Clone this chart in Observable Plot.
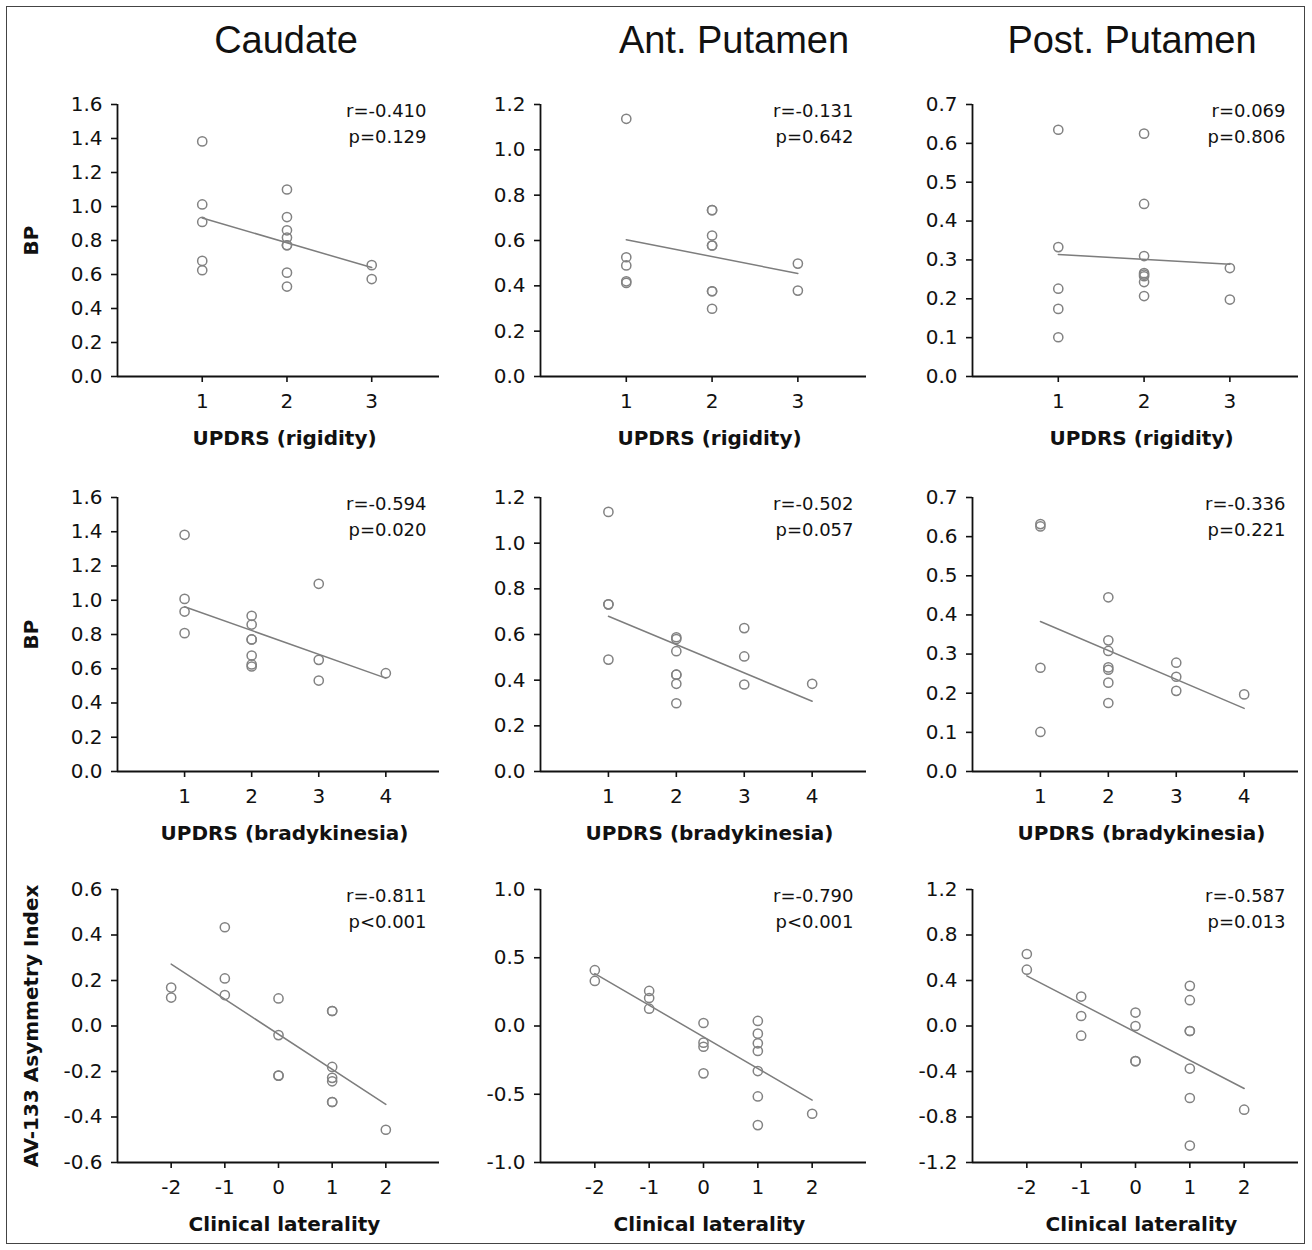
<!DOCTYPE html>
<html>
<head>
<meta charset="utf-8">
<script src="https://cdn.jsdelivr.net/npm/d3@7"></script>
<script src="https://cdn.jsdelivr.net/npm/@observablehq/plot@0.6"></script>
<style>
  body { margin: 0; background: #fff; }
  #fig { position: relative; width: 1312px; height: 1250px; background: #fff; overflow: hidden; }
  #border { position: absolute; left: 6px; top: 6px; width: 1297px; height: 1236px; border: 1.5px solid #444; }
  .title { position: absolute; font-family: "Liberation Sans", Arial, sans-serif; font-size: 38px; color: #111;
           transform: translateX(-50%); white-space: nowrap; line-height: 1; }
  .panel { position: absolute; }
  .panel svg { background: transparent; overflow: visible; }
</style>
</head>
<body>
<div id="fig"><div id="border"></div></div>
<script>
// ---- Data ----
const regions = ["Caudate", "Ant. Putamen", "Post. Putamen"];
const rowXLabels = ["UPDRS (rigidity)", "UPDRS (bradykinesia)", "Clinical laterality"];
const rowYLabels = ["BP", "BP", "AV-133 Asymmetry Index"];

const rigidityScores = [1,1,1,1,1, 2,2,2,2,2,2,2,2, 3,3];
const rigidityTicks = [1, 2, 3];
const caudateRigidityBP    = [1.383,1.012,0.909,0.680,0.625, 1.100,0.938,0.860,0.817,0.772,0.772,0.611,0.529, 0.655,0.573];
const antPutamenRigidityBP = [1.137,0.526,0.490,0.420,0.413, 0.734,0.734,0.622,0.578,0.578,0.376,0.376,0.299, 0.498,0.379];
const postPutamenRigidityBP= [0.635,0.333,0.226,0.174,0.101, 0.625,0.444,0.310,0.266,0.262,0.258,0.243,0.207, 0.279,0.198];

const bradykinesiaScores = [1,1,1,1, 2,2,2,2,2,2,2, 3,3,3, 4];
const bradykinesiaTicks = [1, 2, 3, 4];
const caudateBradyBP     = [1.382,1.008,0.934,0.808, 0.909,0.858,0.771,0.771,0.677,0.625,0.613, 1.096,0.652,0.531, 0.574];
const antPutamenBradyBP  = [1.137,0.732,0.732,0.490, 0.588,0.580,0.527,0.424,0.424,0.384,0.299, 0.628,0.504,0.381, 0.384];
const postPutamenBradyBP = [0.632,0.626,0.265,0.101, 0.445,0.335,0.308,0.266,0.260,0.227,0.175, 0.278,0.242,0.206, 0.197];

const lateralityScores = [-2,-2, -1,-1,-1, 0,0,0,0, 1,1,1,1,1,1,1, 2];
const lateralityTicks = [-2, -1, 0, 1, 2];
const caudateAsym     = [0.169,0.125, 0.434,0.209,0.136, 0.121,-0.040,-0.218,-0.218, 0.066,0.066,-0.180,-0.228,-0.243,-0.334,-0.334, -0.456];
const antPutamenAsym  = [0.409,0.330, 0.257,0.205,0.127, 0.022,-0.122,-0.152,-0.347, 0.037,-0.056,-0.127,-0.183,-0.330,-0.516,-0.726, -0.643];
const postPutamenAsym = [0.633,0.495, 0.259,0.088,-0.085, 0.118,0.000,-0.309,-0.309, 0.353,0.227,-0.044,-0.044,-0.374,-0.633,-1.051, -0.736];

const rStats = [["r=-0.410","r=-0.131","r=0.069"], ["r=-0.594","r=-0.502","r=-0.336"], ["r=-0.811","r=-0.790","r=-0.587"]];
const pStats = [["p=0.129","p=0.642","p=0.806"], ["p=0.020","p=0.057","p=0.221"], ["p<0.001","p<0.001","p=0.013"]];

const yTicksBP1 = [0, 0.2, 0.4, 0.6, 0.8, 1.0, 1.2, 1.4, 1.6];
const yTicksBP2 = [0, 0.2, 0.4, 0.6, 0.8, 1.0, 1.2];
const yTicksBP3 = [0, 0.1, 0.2, 0.3, 0.4, 0.5, 0.6, 0.7];
const yTicksAsym1 = [-0.6, -0.4, -0.2, 0, 0.2, 0.4, 0.6];
const yTicksAsym2 = [-1.0, -0.5, 0, 0.5, 1.0];
const yTicksAsym3 = [-1.2, -0.8, -0.4, 0, 0.4, 0.8, 1.2];

const xDomains = [[0, 3.8], [0, 4.8], [-3, 3]];

// ---- Layout ----
const colLeft = [117, 540, 972];
const colWidth = [322, 326, 326];
const rowTop = [104, 497, 889];
const rowHeight = [272, 274, 273];
const titleCenters = [286, 734, 1132];

const rows = [
  {xs: rigidityScores, xTicks: rigidityTicks, ys: [caudateRigidityBP, antPutamenRigidityBP, postPutamenRigidityBP], yTicks: [yTicksBP1, yTicksBP2, yTicksBP3]},
  {xs: bradykinesiaScores, xTicks: bradykinesiaTicks, ys: [caudateBradyBP, antPutamenBradyBP, postPutamenBradyBP], yTicks: [yTicksBP1, yTicksBP2, yTicksBP3]},
  {xs: lateralityScores, xTicks: lateralityTicks, ys: [caudateAsym, antPutamenAsym, postPutamenAsym], yTicks: [yTicksAsym1, yTicksAsym2, yTicksAsym3]}
];

const fig = document.getElementById("fig");

regions.forEach((name, c) => {
  const t = document.createElement("div");
  t.className = "title";
  t.textContent = name;
  t.style.left = titleCenters[c] + "px";
  t.style.top = "21px";
  fig.appendChild(t);
});

const mL = 100, mR = 10, mT = 12, mB = 80;
const ink = "#111";

rows.forEach((row, ri) => {
  row.ys.forEach((yvals, c) => {
    const data = row.xs.map((x, i) => ({x, y: yvals[i]}));
    const yTicks = row.yTicks[c];
    const yDomain = [yTicks[0], yTicks[yTicks.length - 1]];
    const xDomain = xDomains[ri];
    const w = colWidth[c], h = rowHeight[ri];
    const marks = [
      Plot.axisX({ticks: row.xTicks, tickFormat: d => String(d), tickSize: 6, tickPadding: 11, strokeWidth: 1.6, label: null, fill: ink, stroke: ink}),
      Plot.axisY({ticks: yTicks, tickFormat: d => d.toFixed(1), tickSize: 6, tickPadding: 9, strokeWidth: 1.6, label: null, fill: ink, stroke: ink}),
      Plot.ruleX([xDomain[0]], {stroke: ink, strokeWidth: 1.8}),
      Plot.ruleY([yDomain[0]], {stroke: ink, strokeWidth: 1.8}),
      Plot.linearRegressionY(data, {x: "x", y: "y", ci: 0, stroke: "#7d7d7d", strokeWidth: 1.5}),
      Plot.dot(data, {x: "x", y: "y", r: 4.6, stroke: "#828282", strokeWidth: 1.5, fill: "none"}),
      Plot.text([rStats[ri][c] + "\n" + pStats[ri][c]], {text: d => d, frameAnchor: "top-right", textAnchor: "end", lineAnchor: "top", dx: -13, dy: -5, fontSize: 18, lineHeight: 1.4, fill: ink}),
      Plot.text([rowXLabels[ri]], {text: d => d, frameAnchor: "bottom", textAnchor: "middle", lineAnchor: "middle", dx: 6, dy: 62, fontSize: 20, fontWeight: "bold", fill: ink})
    ];
    if (c === 0) {
      marks.push(Plot.text([rowYLabels[ri]], {text: d => d, frameAnchor: "left", textAnchor: "middle", lineAnchor: "middle", rotate: -90, dx: -86, fontSize: 20, fontWeight: "bold", fill: ink}));
    }
    const svg = Plot.plot({
      width: mL + w + mR,
      height: mT + h + mB,
      marginLeft: mL, marginRight: mR, marginTop: mT, marginBottom: mB,
      style: {fontFamily: "'DejaVu Sans', sans-serif", fontSize: "20px", color: ink, background: "transparent", overflow: "visible"},
      x: {domain: xDomain},
      y: {domain: yDomain},
      marks
    });
    const holder = document.createElement("div");
    holder.className = "panel";
    holder.style.left = (colLeft[c] - mL) + "px";
    holder.style.top = (rowTop[ri] - mT) + "px";
    holder.appendChild(svg);
    fig.appendChild(holder);
  });
});
</script>
</body>
</html>
